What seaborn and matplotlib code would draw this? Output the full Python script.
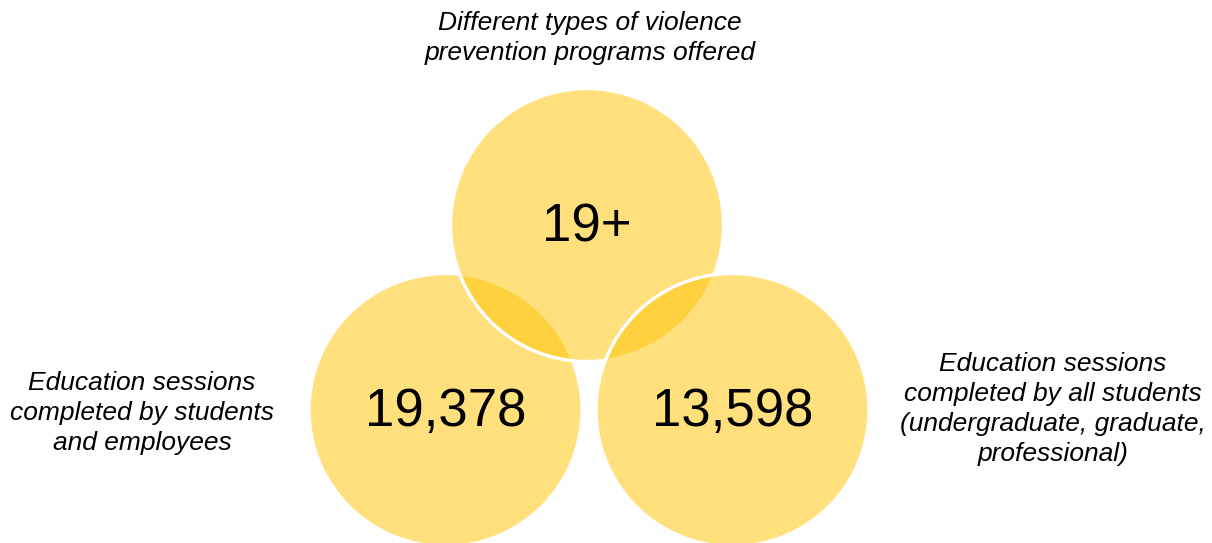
import matplotlib
matplotlib.use("Agg")
import matplotlib.pyplot as plt
import seaborn as sns
from matplotlib.patches import Circle
from matplotlib.colors import to_rgba

# chart data
values = ["19,378", "19+", "13,598"]
labels = [
    "Education sessions\ncompleted by students\nand employees",
    "Different types of violence\nprevention programs offered",
    "Education sessions\ncompleted by all students\n(undergraduate, graduate,\nprofessional)",
]

sns.set_theme(style="white")
plt.rcParams['font.family'] = ['Liberation Sans', 'DejaVu Sans']

# layout (pixel space of the 1212x543 canvas)
centers = [(445.5, 410), (587, 225), (732.5, 410)]
radius = 136.5
label_pos = [(142, 413), (590, 38), (1053, 409)]
fill = to_rgba('#FFC407', 0.52)

fig = plt.figure(figsize=(12.12, 5.43), dpi=100)
ax = fig.add_axes([0, 0, 1, 1])
ax.set_xlim(0, 1212)
ax.set_ylim(543, 0)
ax.set_aspect('equal')
ax.axis('off')

for (cx, cy), val in zip(centers, values):
	ax.add_patch(Circle((cx, cy), radius, facecolor=fill, edgecolor='white', linewidth=2.4))

for (cx, cy), val in zip(centers, values):
	ax.text(cx, cy + 2, val, fontsize=38, ha='center', va='center', color='black')

for (lx, ly), lab in zip(label_pos, labels):
	ax.text(lx, ly, lab, fontsize=19, style='italic', ha='center', va='center',
		color='black', linespacing=1.32)

fig.savefig('out.png', dpi=100)
